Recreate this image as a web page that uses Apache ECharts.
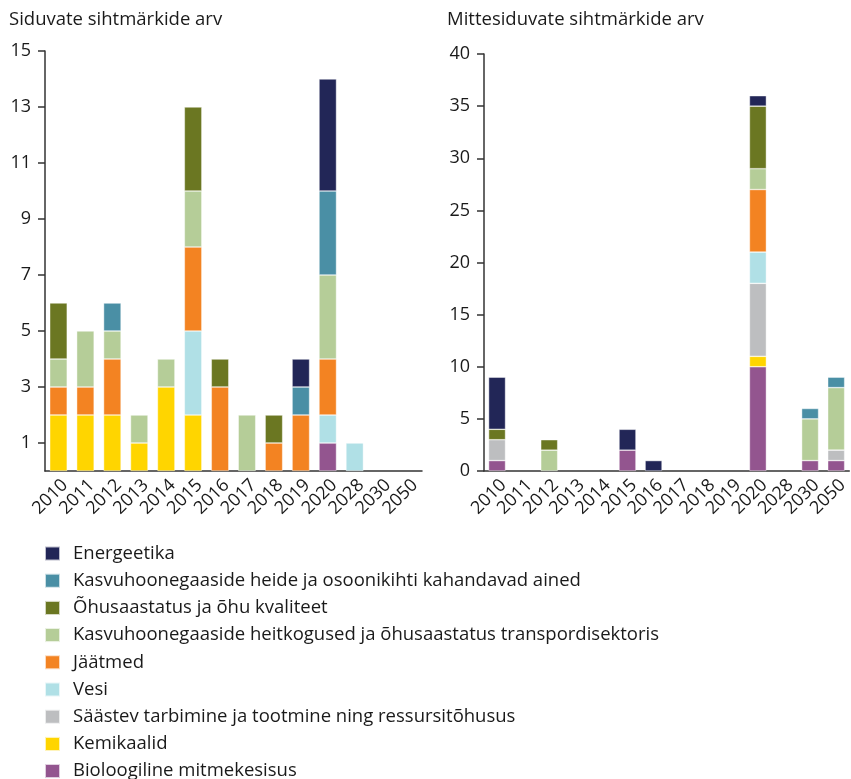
<!DOCTYPE html>
<html>
<head>
<meta charset="utf-8">
<script src="https://cdn.jsdelivr.net/npm/echarts@6/dist/echarts.min.js"></script>
<style>
  html, body { margin: 0; padding: 0; background: #fff; }
  #main { width: 851px; height: 779px; }
</style>
</head>
<body>
<div id="main"></div>
<script>
// aastad (sama mõlemal joonisel)
const years = ["2010", "2011", "2012", "2013", "2014", "2015", "2016", "2017", "2018", "2019", "2020", "2028", "2030", "2050"];

// seeriate nimed, alt üles virna järjekorras
const names = [
  "Bioloogiline mitmekesisus",
  "Kemikaalid",
  "Säästev tarbimine ja tootmine ning ressursitõhusus",
  "Vesi",
  "Jäätmed",
  "Kasvuhoonegaaside heitkogused ja õhusaastatus transpordisektoris",
  "Õhusaastatus ja õhu kvaliteet",
  "Kasvuhoonegaaside heide ja osoonikihti kahandavad ained",
  "Energeetika"
];
const colors = ["#93558f", "#ffd500", "#bdbec0", "#b0e0e6", "#f38322", "#b5cd98", "#6b7722", "#4a8fa5", "#222657"];

// Siduvad sihtmärgid
const bindBio       = [0, 0, 0, 0, 0, 0, 0, 0, 0, 0, 1, 0, 0, 0];
const bindChem      = [2, 2, 2, 1, 3, 2, 0, 0, 0, 0, 0, 0, 0, 0];
const bindSust      = [0, 0, 0, 0, 0, 0, 0, 0, 0, 0, 0, 0, 0, 0];
const bindWater     = [0, 0, 0, 0, 0, 3, 0, 0, 0, 0, 1, 1, 0, 0];
const bindWaste     = [1, 1, 2, 0, 0, 3, 3, 0, 1, 2, 2, 0, 0, 0];
const bindTransport = [1, 2, 1, 1, 1, 2, 0, 2, 0, 0, 3, 0, 0, 0];
const bindAir       = [2, 0, 0, 0, 0, 3, 1, 0, 1, 0, 0, 0, 0, 0];
const bindGhg       = [0, 0, 1, 0, 0, 0, 0, 0, 0, 1, 3, 0, 0, 0];
const bindEnergy    = [0, 0, 0, 0, 0, 0, 0, 0, 0, 1, 4, 0, 0, 0];

// Mittesiduvad sihtmärgid
const nonBio       = [1, 0, 0, 0, 0, 2, 0, 0, 0, 0, 10, 0, 1, 1];
const nonChem      = [0, 0, 0, 0, 0, 0, 0, 0, 0, 0, 1, 0, 0, 0];
const nonSust      = [2, 0, 0, 0, 0, 0, 0, 0, 0, 0, 7, 0, 0, 1];
const nonWater     = [0, 0, 0, 0, 0, 0, 0, 0, 0, 0, 3, 0, 0, 0];
const nonWaste     = [0, 0, 0, 0, 0, 0, 0, 0, 0, 0, 6, 0, 0, 0];
const nonTransport = [0, 0, 2, 0, 0, 0, 0, 0, 0, 0, 2, 0, 4, 6];
const nonAir       = [1, 0, 1, 0, 0, 0, 0, 0, 0, 0, 6, 0, 0, 0];
const nonGhg       = [0, 0, 0, 0, 0, 0, 0, 0, 0, 0, 0, 0, 1, 1];
const nonEnergy    = [5, 0, 0, 0, 0, 2, 1, 0, 0, 0, 1, 0, 0, 0];

const leftTicks = [1, 3, 5, 7, 9, 11, 13, 15];
const rightTicks = [0, 5, 10, 15, 20, 25, 30, 35, 40];

const bindData = [bindBio, bindChem, bindSust, bindWater, bindWaste, bindTransport, bindAir, bindGhg, bindEnergy];
const nonData = [nonBio, nonChem, nonSust, nonWater, nonWaste, nonTransport, nonAir, nonGhg, nonEnergy];

const font = "'Open Sans', 'Noto Sans', sans-serif";
const txt = "#1a1a1a";
const axisCol = "#333";

function xAx(gi) {
  return {
    type: "category", gridIndex: gi, data: years,
    axisLine: { lineStyle: { color: axisCol, width: 1.5 } },
    axisTick: { show: false },
    axisLabel: { interval: 0, rotate: 45, fontSize: 18, color: txt, fontFamily: font, margin: 5, verticalAlign: "top" }
  };
}
function yAx(gi, max, ticks) {
  return {
    type: "value", gridIndex: gi, min: 0, max: max,
    splitLine: { show: false },
    axisLine: { show: true, lineStyle: { color: axisCol, width: 1.5 } },
    axisTick: { show: true, length: 7, customValues: ticks, lineStyle: { color: axisCol, width: 1.5 } },
    axisLabel: { customValues: ticks, fontSize: 18, color: txt, fontFamily: font, margin: 14 }
  };
}

const series = [];
[bindData, nonData].forEach((set, gi) => {
  set.forEach((arr, i) => {
    series.push({
      name: names[i], type: "bar", stack: "s" + gi,
      xAxisIndex: gi, yAxisIndex: gi,
      barWidth: "65%",
      itemStyle: { color: colors[i], borderColor: "rgba(255,255,255,0.7)", borderWidth: 0.6 },
      data: arr.map(v => (v === 0 ? null : v))
    });
  });
});

const chart = echarts.init(document.getElementById("main"));
chart.setOption({
  animation: false,
  textStyle: { fontFamily: font },
  title: [
    { text: "Siduvate sihtmärkide arv", left: 4, top: 5, textStyle: { fontSize: 18.5, fontWeight: "normal", color: txt, fontFamily: font } },
    { text: "Mittesiduvate sihtmärkide arv", left: 442, top: 5, textStyle: { fontSize: 18.5, fontWeight: "normal", color: txt, fontFamily: font } }
  ],
  legend: {
    orient: "vertical", left: 44, top: 544, height: 300, padding: 0,
    data: names.slice().reverse(),
    icon: "rect", itemWidth: 15, itemHeight: 14, itemGap: 8.2,
    textStyle: { fontSize: 18.5, color: txt, fontFamily: font, padding: [0, 0, 0, 8] }
  },
  grid: [
    { left: 45, top: 51, width: 377, height: 420 },
    { left: 484, top: 54, width: 366, height: 417 }
  ],
  xAxis: [xAx(0), xAx(1)],
  yAxis: [yAx(0, 15, leftTicks), yAx(1, 40, rightTicks)],
  series: series
});
</script>
</body>
</html>
